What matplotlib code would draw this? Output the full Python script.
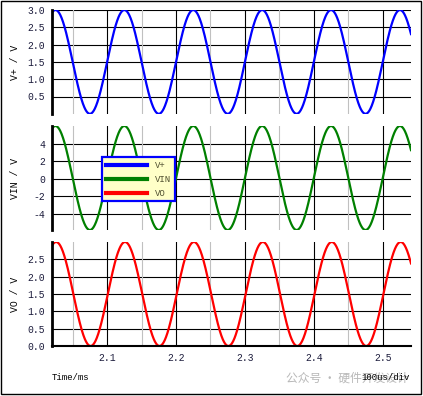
import numpy as np
import matplotlib.pyplot as plt
from matplotlib.patches import Rectangle

# waveform parameters (10 kHz sine, peaks at t = 2.025 ms + k*0.1 ms)
period_ms = 0.1
peak_time_ms = 2.025
vt_offset, vt_amp = 1.5, 1.5
vin_offset, vin_amp = 0.1, 5.95
vo_offset, vo_amp = 1.5, 1.5
vo_lag_ms = 0.001

x_ticks = [2.1, 2.2, 2.3, 2.4, 2.5]
x_minor = [2.05, 2.15, 2.25, 2.35, 2.45]
vt_ticks = [0.5, 1.0, 1.5, 2.0, 2.5, 3.0]
vin_ticks = [-4, -2, 0, 2, 4]
vo_ticks = [0.0, 0.5, 1.0, 1.5, 2.0, 2.5]

t = np.linspace(2.02, 2.541, 1500)
vt = vt_offset + vt_amp * np.cos(2 * np.pi * (t - peak_time_ms) / period_ms)
vin = vin_offset + vin_amp * np.cos(2 * np.pi * (t - peak_time_ms) / period_ms)
vo = vo_offset + vo_amp * np.cos(2 * np.pi * (t - peak_time_ms - vo_lag_ms) / period_ms)

mono = 'Liberation Mono'
tick_col = '#1c1c3c'

fig = plt.figure(figsize=(4.23, 3.96), dpi=100)
left, width = 52 / 423, 359 / 423
boxes = [(10, 113.8), (126, 230), (242, 346)]
panels = [
    (vt, 'blue', 'V+ / V', vt_ticks, (0, 3.0)),
    (vin, 'green', 'VIN / V', vin_ticks, (-5.85, 6.05)),
    (vo, 'red', 'VO / V', vo_ticks, (0, 3.0)),
]
axes = []
for (top, bot), (y, col, lab, yt, yl) in zip(boxes, panels):
    ax = fig.add_axes([left, 1 - bot / 396, width, (bot - top) / 396])
    ax.plot(t, y, color=col, lw=1.6)
    ax.set_xlim(2.02, 2.541)
    ax.set_ylim(*yl)
    ax.set_yticks(yt)
    ax.set_yticklabels([str(v) for v in yt], fontsize=7, family=mono, color=tick_col)
    for v in yt:
        ax.axhline(v, color='black', lw=0.8, zorder=0)
    for v in x_ticks:
        ax.axvline(v, color='black', lw=0.8, zorder=0)
    for v in x_minor:
        ax.axvline(v, color='#c0c0c0', lw=0.8, zorder=0)
    ax.set_xticks(x_ticks)
    ax.tick_params(length=0, pad=5)
    for s in ['top', 'right', 'bottom']:
        ax.spines[s].set_visible(False)
    ax.spines['left'].set_linewidth(2)
    ax.set_ylabel(lab, fontsize=7, family=mono)
    axes.append(ax)

axes[0].set_xticklabels([])
axes[1].set_xticklabels([])
axes[2].spines['bottom'].set_visible(True)
axes[2].spines['bottom'].set_linewidth(1.5)
axes[2].set_xticklabels([str(v) for v in x_ticks], fontsize=7, family=mono, color=tick_col)
for a in axes:
    a.yaxis.set_label_coords(-0.09, 0.5)

# legend sits over the middle panel
handles = [plt.Line2D([], [], color=c, lw=3) for c in ['blue', 'green', 'red']]
leg = axes[1].legend(handles, ['V+', 'VIN', 'VO'], loc='upper left',
                     bbox_to_anchor=(0.139, 0.70), borderaxespad=0, handlelength=4.6,
                     prop={'family': mono, 'size': 6.5}, fancybox=False,
                     framealpha=1, borderpad=0.4, labelspacing=0.55, handletextpad=0.9)
leg.get_frame().set_facecolor('#ffffc8')
leg.get_frame().set_edgecolor('blue')
leg.get_frame().set_linewidth(1.6)
for txt in leg.get_texts():
    txt.set_color('#505030')

fig.text(52 / 423, 1 - 378 / 396, 'Time/ms', fontsize=6.5, family=mono, va='center')
fig.text(347 / 423, 1 - 378 / 396, '公众号 · 硬件开发设计', fontsize=8.5, color='#b8b8b8',
         family=['Noto Sans CJK SC', 'DejaVu Sans'], ha='center', va='center')
fig.text(410 / 423, 1 - 378 / 396, '100us/div', fontsize=6.5, family=mono, ha='right', va='center')

fig.patches.append(Rectangle((0.5 / 423, 1 - 393.5 / 396), 420.5 / 423, 392.5 / 396,
                             transform=fig.transFigure, fill=False, lw=1, edgecolor='black'))

fig.savefig('out.png', dpi=100)
